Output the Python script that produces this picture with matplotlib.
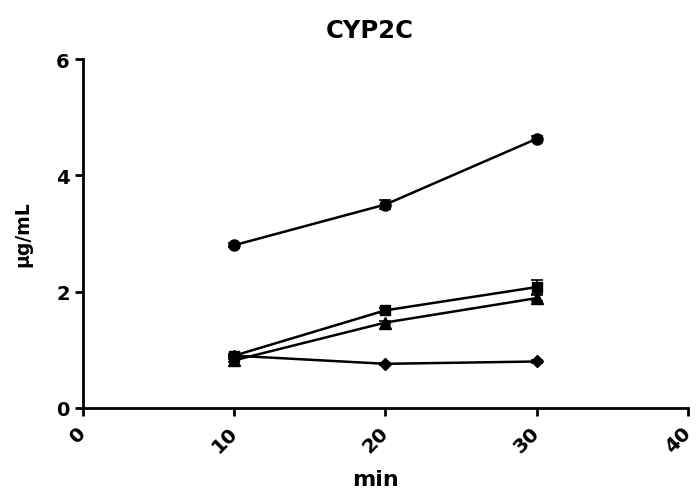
import numpy as np
import matplotlib
matplotlib.use('Agg')
import matplotlib.pyplot as plt

plt.rcParams['font.family'] = ['DejaVu Sans']

t = [10, 20, 30]
circle = [2.80, 3.50, 4.63]
circle_err = [0.03, 0.08, 0.04]
square = [0.90, 1.68, 2.08]
square_err = [0.03, 0.04, 0.12]
triangle = [0.82, 1.47, 1.89]
triangle_err = [0.03, 0.03, 0.05]
diamond = [0.90, 0.76, 0.80]
diamond_err = [0.02, 0.02, 0.02]

fig = plt.figure(figsize=(6.97, 4.89), dpi=100)
ax = fig.add_axes([0.119, 0.1636, 0.868, 0.7134])

for y, e, m, ms in [(circle, circle_err, 'o', 8), (square, square_err, 's', 7.5),
                    (triangle, triangle_err, '^', 8), (diamond, diamond_err, 'D', 6.5)]:
    ax.errorbar(t, y, yerr=e, color='black', marker=m, markersize=ms, linewidth=1.8,
                capsize=4, elinewidth=1.2, capthick=1.2)

ax.set_xlim(0, 40)
ax.set_ylim(0, 6)
ax.set_xticks([0, 10, 20, 30, 40])
ax.set_yticks([0, 2, 4, 6])
for s in ['top', 'right']:
    ax.spines[s].set_visible(False)
for s in ['left', 'bottom']:
    ax.spines[s].set_linewidth(2)
ax.tick_params(width=2, length=6)
ax.tick_params(axis='x', pad=9)
plt.setp(ax.get_xticklabels(), rotation=45, ha='right', va='center', rotation_mode='anchor',
         fontsize=14.5, fontweight='bold')
plt.setp(ax.get_yticklabels(), fontsize=14, fontweight='bold')
ax.set_xlabel('min', fontsize=16, fontweight='bold', va='top')
ax.xaxis.set_label_coords(0.483, -0.175)
ax.set_ylabel('µg/mL', fontsize=13.5, fontweight='bold')
ax.yaxis.set_label_coords(-0.083, 0.5)
fig.text(0.531, 1 - 19 / 489, 'CYP2C', fontsize=17.5, fontweight='bold', ha='center', va='top')

fig.savefig('out.png', dpi=100)
